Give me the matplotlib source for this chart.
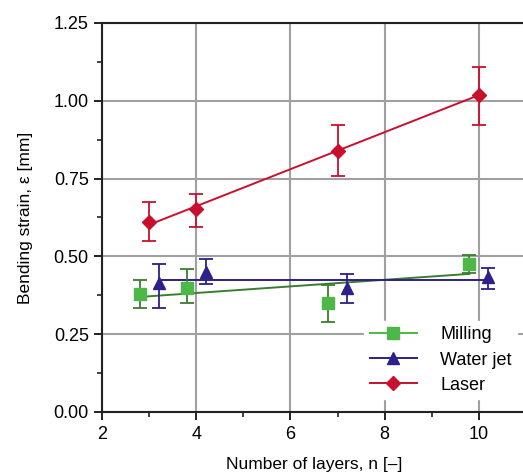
import numpy as np
import matplotlib.pyplot as plt
from matplotlib.ticker import MultipleLocator

#data
mill_x = [2.8, 3.8, 6.8, 9.8]
mill_y = [0.379, 0.400, 0.351, 0.476]
mill_lo = [0.334, 0.351, 0.290, 0.448]
mill_hi = [0.424, 0.460, 0.408, 0.505]

jet_x = [3.2, 4.2, 7.2, 10.2]
jet_y = [0.413, 0.451, 0.397, 0.435]
jet_lo = [0.334, 0.410, 0.351, 0.395]
jet_hi = [0.476, 0.492, 0.442, 0.464]

laser_x = [3, 4, 7, 10]
laser_y = [0.610, 0.652, 0.839, 1.020]
laser_lo = [0.550, 0.594, 0.758, 0.922]
laser_hi = [0.675, 0.700, 0.922, 1.110]

plt.rcParams['font.family'] = ['Liberation Sans', 'DejaVu Sans']

fig = plt.figure(figsize=(5.23, 4.74), dpi=100)
ax = fig.add_axes([102/523, 62/474, 424/523, 389/474])

series = [
    ('Milling', mill_x, mill_y, mill_lo, mill_hi, 's', '#4db848', '#3b7d30', '#4db848', 1),
    ('Water jet', jet_x, jet_y, jet_lo, jet_hi, '^', '#2d2088', '#2d2088', '#2d2088', 0),
    ('Laser', laser_x, laser_y, laser_lo, laser_hi, 'D', '#c8102e', '#c8102e', '#c8102e', 1),
]

handles = []
for name, x, y, lo, hi, mk, mc, lc, legc, deg in series:
    x = np.array(x)
    y = np.array(y)
    yerr = [y - np.array(lo), np.array(hi) - y]
    ax.errorbar(x, y, yerr=yerr, fmt='none', ecolor=lc, elinewidth=1.3,
                capsize=5, capthick=1.3, zorder=4)
    #fit line
    coef = np.polyfit(x, y, deg)
    xf = np.array([x.min(), x.max()])
    ax.plot(xf, np.polyval(coef, xf), color=lc, lw=1.4, zorder=3)
    ax.plot(x, y, ls='none', marker=mk, ms=8 if mk != 'D' else 7,
            mfc=mc, mec=mc, zorder=5)
    h, = ax.plot([], [], color=legc, lw=1.4, marker=mk,
                 ms=8 if mk != 'D' else 7, mfc=legc, mec=legc)
    handles.append(h)

ax.set_xlim(2, 11)
ax.set_ylim(0, 1.25)
ax.xaxis.set_major_locator(MultipleLocator(2))
ax.xaxis.set_minor_locator(MultipleLocator(1))
ax.yaxis.set_major_locator(MultipleLocator(0.25))
ax.yaxis.set_minor_locator(MultipleLocator(0.125))
ax.yaxis.set_major_formatter(lambda v, p: '%.2f' % v)

ax.grid(which='major', color='#a0a0a0', lw=1.5)
ax.set_axisbelow(True)

for s in ['right']:
    ax.spines[s].set_visible(False)
for s in ['left', 'bottom', 'top']:
    ax.spines[s].set_linewidth(1.5)
    ax.spines[s].set_color('#222222')

ax.tick_params(which='major', direction='out', length=6, width=1.4,
               labelsize=13, color='#222222')
ax.tick_params(which='minor', direction='out', length=3.5, width=1.2,
               color='#222222')
ax.tick_params(axis='x', pad=4)

ax.set_xlabel('Number of layers, n [–]', fontsize=12.5, labelpad=10)
ax.set_ylabel('Bending strain, ε [mm]', fontsize=12.5, labelpad=15)

leg = ax.legend(handles, ['Milling', 'Water jet', 'Laser'], loc='lower right',
                bbox_to_anchor=(1.0, 0.01), frameon=True, fontsize=13,
                handlelength=2.6, labelspacing=0.45, borderpad=0.3,
                handletextpad=1.3, fancybox=False)
leg.get_frame().set_edgecolor('white')
leg.get_frame().set_facecolor('white')
leg.get_frame().set_alpha(1)

fig.savefig('out.png', dpi=100)
